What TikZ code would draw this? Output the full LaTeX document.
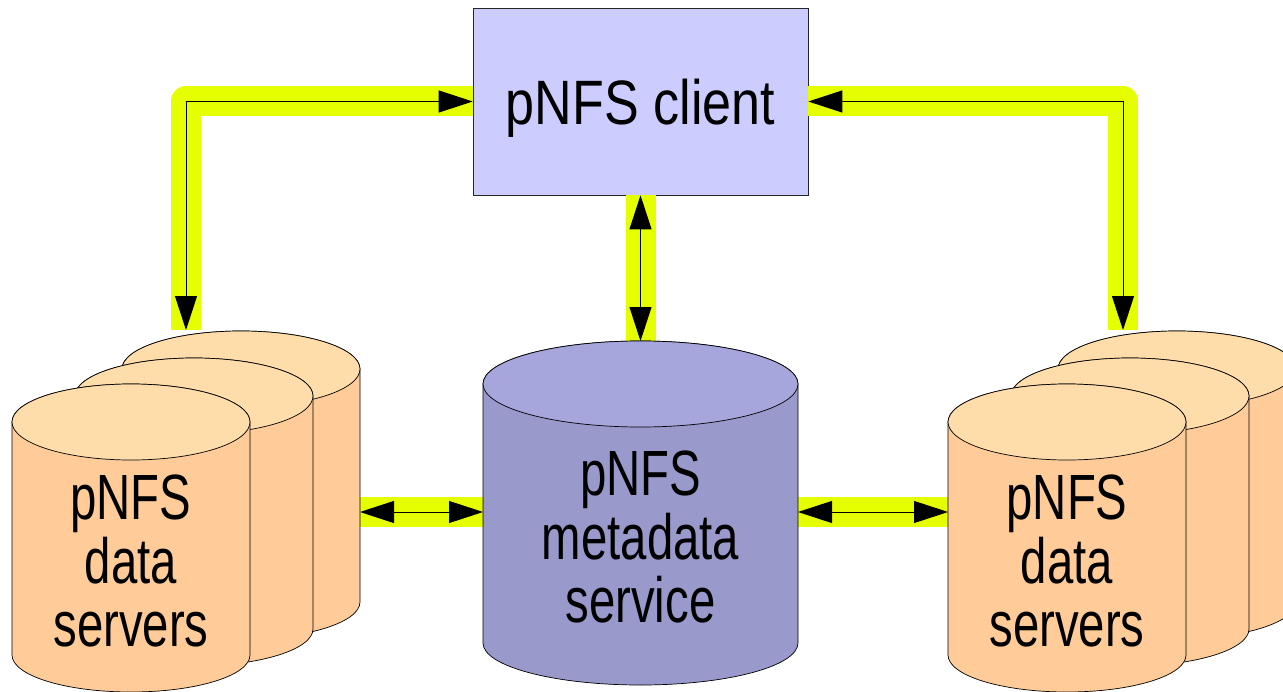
\documentclass[tikz,border=0pt]{standalone}
\usepackage{fontspec}
\setmainfont{Liberation Sans}
\newfontfamily\drumfont{Liberation Sans}[FakeStretch=0.74]
\newfontfamily\boxfont{Liberation Sans}[FakeStretch=0.83]
\usepackage{tikz}
\usetikzlibrary{arrows.meta}
\definecolor{hl}{HTML}{E6FF00}
\definecolor{clientfill}{HTML}{CCCCFF}
\definecolor{dataside}{HTML}{FFCC99}
\definecolor{datatop}{HTML}{FFDDAA}
\definecolor{metaside}{HTML}{9999CC}
\definecolor{metatop}{HTML}{A6A6DD}

\begin{document}
\begin{tikzpicture}[x=0.02cm, y=0.02cm]
                \tikzstyle{clientbox} = [rectangle, draw=black!85, fill=clientfill, minimum width=6.7cm, minimum height=3.74cm, inner sep=0pt, text depth=0pt, font=\boxfont\fontsize{35.7}{40}\selectfont]
                \tikzstyle{drumtext} = [align=center, inner sep=0pt, font=\drumfont\fontsize{36.4}{36.4}\selectfont]
                \tikzstyle{bus} = [line width=0.5pt, {Triangle[length=0.68cm, width=0.44cm]}-{Triangle[length=0.68cm, width=0.44cm]}, preaction={draw=hl, line width=0.6cm, line join=round, -}]
                \useasboundingbox (0,0) rectangle (1283,-692);
                \clip (0,0) rectangle (1283,-692);

                \node (client) [clientbox] at (640.5,-101.5) {pNFS client};

                \coordinate (ltop) at (186,-330);
                \coordinate (rtop) at (1123,-330);
                \coordinate (mtop) at (640.5,-341);
                \coordinate (lside) at (360,-512);
                \coordinate (mleft) at (483,-512);
                \coordinate (mright) at (798,-512);
                \coordinate (rside) at (948,-512);

                \draw [bus] (client.west) -| (ltop);
                \draw [bus] (client.east) -| (rtop);
                \draw [bus] (client.south) -- (mtop);
                \draw [bus] (lside) -- (mleft);
                \draw [bus] (mright) -- (rside);

                % data server stacks, back to front
                \foreach \sx in {0,936} {
                  \foreach \dx/\dy in {110/53, 63/26, 0/0} {
                    \filldraw [fill=dataside, draw=black] ({12+\sx+\dx},{-422+\dy}) -- ++(0,-233)
                      arc [start angle=180, end angle=360, x radius=119, y radius=37] -- ++(0,233)
                      arc [start angle=0, end angle=180, x radius=119, y radius=38] -- cycle;
                    \filldraw [fill=datatop, draw=black] ({131+\sx+\dx},{-422+\dy}) ellipse [x radius=119, y radius=38];
                  }
                }

                % metadata service
                \filldraw [fill=metaside, draw=black] (483,-384) -- (483,-643)
                  arc [start angle=180, end angle=360, x radius=157.5, y radius=42] -- (798,-384)
                  arc [start angle=0, end angle=180, x radius=157.5, y radius=43] -- cycle;
                \filldraw [fill=metatop, draw=black] (640.5,-384) ellipse [x radius=157.5, y radius=43];

                \node (lstore) [drumtext] at (131,-561) {pNFS\\data\\servers};
                \node (rstore) [drumtext] at (1067,-561) {pNFS\\data\\servers};
                \node (meta) [drumtext] at (640.5,-537) {pNFS\\metadata\\service};
            \end{tikzpicture}
\end{document}
